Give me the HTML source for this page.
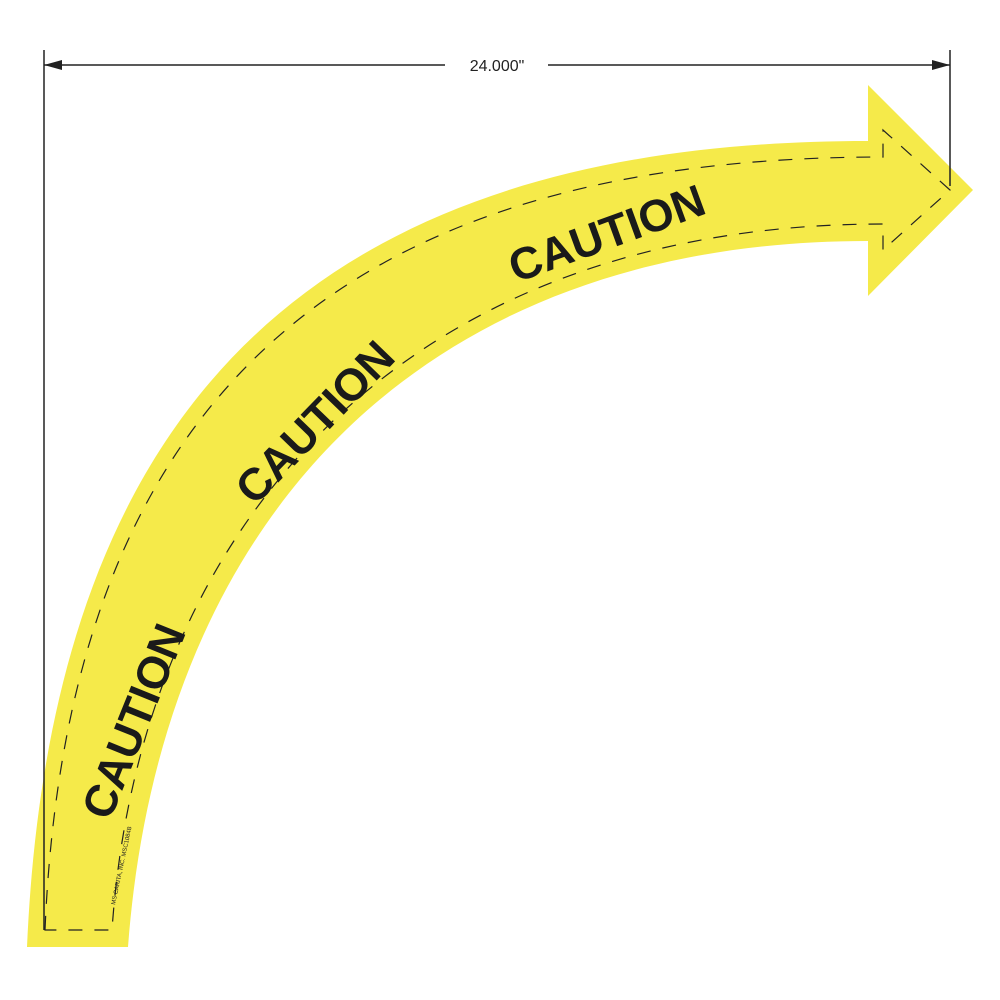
<!DOCTYPE html>
<html><head><style>body{margin:0;background:#fff}svg{display:block}</style></head><body>
<svg width="1000" height="1000" viewBox="0 0 1000 1000" xmlns="http://www.w3.org/2000/svg">
<path d="M27,947 C50,420 300,141 868,141 L868,85 L973,190 L868,296 L868,241 C420,241 160,520 128,947 Z" fill="#f5ea4a"/>
<path d="M45,930 C66,430 310,157 883,157 L883,130 L950,190 L883,250 L883,224 C410,224 140,520 112,930 Z" fill="none" stroke="#222" stroke-width="1.2" stroke-dasharray="14,12"/>
<line x1="44" y1="50" x2="44" y2="930" stroke="#222" stroke-width="1.5"/>
<line x1="950" y1="50" x2="950" y2="186" stroke="#222" stroke-width="1.5"/>
<line x1="44" y1="65" x2="445" y2="65" stroke="#222" stroke-width="1.5"/>
<line x1="548" y1="65" x2="950" y2="65" stroke="#222" stroke-width="1.5"/>
<polygon points="44,65 62,60 62,70" fill="#222"/>
<polygon points="950,65 932,60 932,70" fill="#222"/>
<text x="497" y="71" font-family="Liberation Sans, sans-serif" font-size="16" text-anchor="middle" fill="#222">24.000"</text>
<g font-family="Liberation Sans, sans-serif" font-weight="bold" font-size="45" fill="#1a1a1a" text-anchor="middle">
<text transform="translate(148,727) rotate(-68)">CAUTION</text>
<text transform="translate(326,433) rotate(-46)">CAUTION</text>
<text transform="translate(612,248) rotate(-20)">CAUTION</text>
</g>
<text transform="translate(115,905) rotate(-78)" font-family="Liberation Sans, sans-serif" font-size="6" fill="#222">MS CARITA, INC. MSC1084B</text>
</svg>
</body></html>
